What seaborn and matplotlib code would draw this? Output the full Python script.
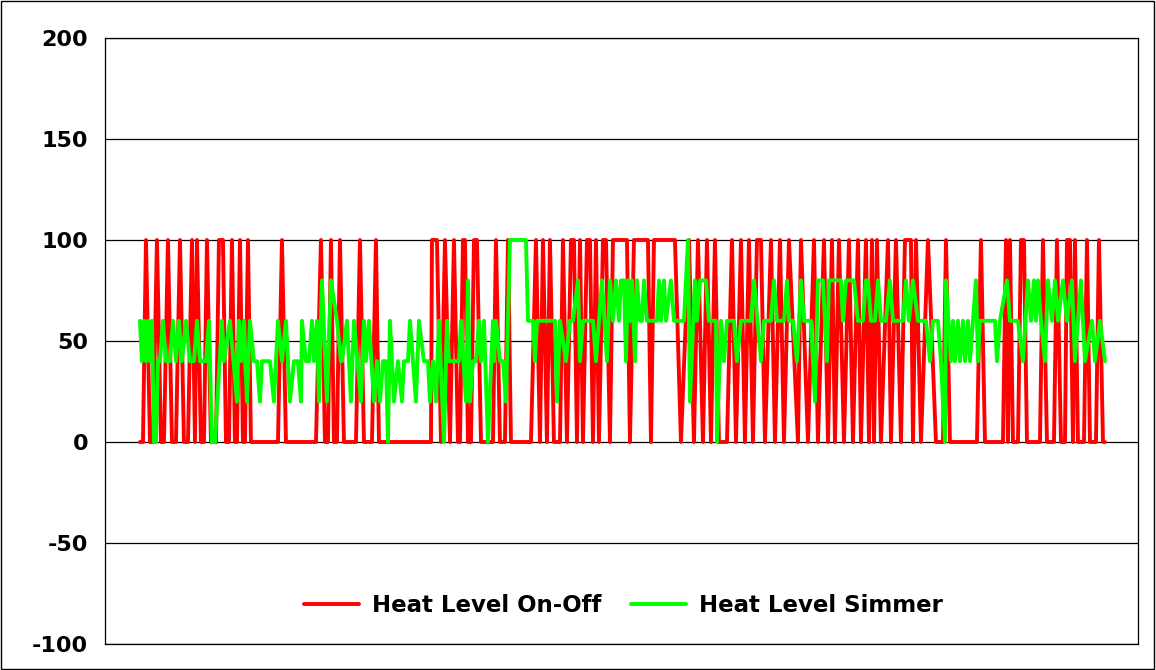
import matplotlib.pyplot as plt
import pandas as pd
import seaborn as sns
from matplotlib.patches import Rectangle

# (time s, level %) vertices, split in chunks
on_off_a = [(0, 0), (3, 0), (6, 100), (10, 0), (13, 0), (17, 100), (21, 0), (24, 0),
            (28, 100), (32, 0), (36, 0), (40, 100), (44, 0), (48, 0), (52, 100), (55, 0),
            (57, 100), (61, 0), (64, 0), (67, 100), (71, 0), (76, 0), (79, 100), (83, 100),
            (86, 0), (89, 0), (92, 100), (95, 0), (97, 0), (100, 100), (103, 0), (105, 0),
            (108, 100), (111, 0), (138, 0), (142, 100), (146, 0), (176, 0), (181, 100),
            (185, 0), (188, 0), (191, 100), (194, 0), (197, 0), (200, 100), (204, 0),
            (216, 0), (220, 100), (224, 0), (232, 0), (236, 100), (239, 0)]
on_off_b = [(291, 0), (292, 100), (297, 100), (301, 0), (305, 100), (310, 0), (314, 100),
            (318, 0), (320, 0), (323, 100), (325, 100), (328, 0), (331, 0), (334, 100),
            (337, 100), (341, 0), (344, 0), (353, 0), (356, 100), (360, 0), (365, 0),
            (368, 100), (371, 0), (391, 0), (396, 100), (400, 0), (403, 100), (407, 0),
            (410, 100), (414, 0), (420, 0), (423, 100), (427, 0), (431, 100), (434, 100),
            (437, 0), (440, 100), (443, 0), (447, 100), (450, 100), (453, 0), (456, 100),
            (459, 0), (463, 100), (466, 100), (470, 0), (473, 100), (487, 100), (490, 0),
            (494, 100), (508, 100), (511, 0), (514, 100), (535, 100), (541, 0)]
on_off_c = [(549, 100), (554, 0), (558, 100), (563, 0), (567, 100), (571, 0), (575, 100),
            (579, 0), (587, 0), (592, 100), (596, 0), (601, 100), (605, 0), (609, 100),
            (613, 0), (617, 100), (621, 100), (625, 0), (631, 100), (635, 0), (640, 100),
            (644, 0), (649, 100), (658, 0), (661, 100), (668, 0), (674, 100), (678, 0),
            (684, 100), (688, 0), (692, 100), (695, 0), (699, 100), (704, 0), (709, 100),
            (713, 0), (718, 100), (721, 0), (726, 100), (729, 0), (732, 100), (734, 0),
            (737, 100), (741, 0), (748, 100), (751, 0), (756, 100), (761, 0), (765, 100),
            (771, 100), (773, 0), (776, 100), (781, 0), (788, 100), (796, 0)]
on_off_d = [(803, 0), (806, 100), (810, 0), (837, 0), (841, 100), (845, 0), (863, 0),
            (866, 100), (868, 0), (870, 100), (873, 0), (878, 0), (881, 100), (884, 100),
            (887, 0), (900, 0), (903, 100), (907, 0), (914, 0), (917, 100), (921, 0),
            (925, 0), (927, 100), (930, 100), (933, 0), (935, 100), (938, 0), (944, 0),
            (947, 100), (950, 0), (956, 0), (959, 100), (963, 0), (965, 0)]

simmer_a = [(0, 60), (2, 40), (4, 60), (6, 40), (8, 60), (10, 40), (12, 60), (14, 0),
            (16, 0), (18, 40), (20, 40), (23, 60), (26, 40), (30, 40), (33, 60), (36, 40),
            (39, 60), (42, 40), (46, 60), (50, 40), (54, 40), (57, 60), (60, 40), (66, 40),
            (69, 60), (72, 0), (75, 0), (82, 60), (84, 40), (90, 60), (97, 20), (99, 60),
            (101, 40), (104, 60), (107, 20), (110, 60), (114, 40), (117, 40), (120, 20),
            (122, 40), (130, 40), (134, 20), (138, 60), (142, 40), (146, 60), (150, 20),
            (154, 40), (158, 40), (161, 20), (162, 60), (166, 40), (169, 40), (172, 60),
            (174, 40), (177, 60), (179, 20), (182, 80), (187, 20), (191, 80), (197, 60),
            (201, 40), (202, 40), (207, 60), (211, 20), (214, 60), (221, 20), (224, 60),
            (226, 40), (229, 60), (234, 20), (237, 40)]
simmer_b = [(240, 20), (243, 40), (246, 40), (248, 0), (250, 60), (254, 20), (258, 40),
            (262, 20), (264, 40), (268, 40), (270, 60), (273, 40), (276, 20), (279, 60),
            (284, 40), (288, 40), (290, 20), (293, 40), (296, 20), (299, 60), (304, 0),
            (307, 60), (309, 40), (319, 40), (321, 60), (326, 20), (328, 80), (330, 20),
            (333, 40), (336, 40), (339, 60), (341, 40), (344, 60), (348, 0), (353, 60),
            (354, 40), (356, 60), (360, 40), (363, 40), (366, 20), (370, 100), (386, 100),
            (388, 60), (393, 60), (395, 40), (397, 60), (415, 60), (417, 20), (420, 60),
            (426, 40), (430, 60), (433, 60), (438, 80), (440, 40), (443, 60), (453, 60),
            (456, 40), (462, 80), (467, 40), (470, 80), (473, 60), (476, 80), (479, 60),
            (481, 80), (484, 80), (486, 40), (488, 80), (490, 60), (492, 80), (495, 40),
            (497, 80), (500, 60), (502, 60), (504, 80)]
simmer_c = [(507, 60), (517, 60), (519, 80), (521, 60), (524, 80), (526, 60), (531, 80),
            (534, 60), (544, 60), (548, 100), (550, 20), (555, 80), (557, 60), (560, 80),
            (566, 80), (569, 60), (576, 60), (577, 0), (581, 60), (584, 40), (587, 60),
            (594, 60), (597, 40), (601, 60), (611, 60), (614, 80), (621, 40), (624, 60),
            (631, 60), (634, 80), (637, 60), (644, 60), (647, 80), (649, 60), (653, 60),
            (657, 40), (661, 80), (664, 60), (671, 60), (675, 20), (678, 80), (683, 80),
            (687, 40), (689, 80), (701, 80), (703, 60), (706, 80), (714, 80), (718, 60),
            (723, 60), (726, 80), (728, 80), (731, 60), (735, 60), (738, 80), (741, 60),
            (746, 60), (750, 80), (753, 60), (763, 60), (766, 80), (769, 60), (773, 80),
            (778, 60), (786, 60), (790, 40), (793, 60), (798, 60), (801, 40), (805, 0)]
simmer_d = [(806, 80), (811, 40), (813, 60), (815, 40), (818, 60), (820, 40), (823, 60),
            (825, 40), (828, 60), (830, 40), (833, 60), (836, 80), (838, 40), (840, 60),
            (855, 60), (857, 40), (860, 60), (867, 80), (870, 60), (878, 60), (883, 40),
            (888, 80), (891, 60), (894, 80), (896, 60), (898, 80), (901, 60), (905, 40),
            (908, 80), (912, 60), (915, 80), (918, 60), (923, 80), (927, 60), (932, 80),
            (935, 40), (941, 80), (945, 40), (952, 60), (955, 40), (960, 60), (965, 40)]

series_names = ["Heat Level On-Off", "Heat Level Simmer"]
y_ticks = [-100, -50, 0, 50, 100, 150, 200]
colors = {"Heat Level On-Off": "#FF0000", "Heat Level Simmer": "#00FF00"}


def to_frame(points, name):
    return pd.DataFrame(points, columns=["t", "level"]).assign(series=name)


df = pd.concat([
    to_frame(on_off_a + on_off_b + on_off_c + on_off_d, series_names[0]),
    to_frame(simmer_a + simmer_b + simmer_c + simmer_d, series_names[1]),
], ignore_index=True)

sns.set_theme(style="white")
plt.rcParams["font.family"] = ["DejaVu Sans"]

fig = plt.figure(figsize=(11.56, 6.70), dpi=100)
ax = fig.add_axes([0.0908, 0.0388, 0.8936, 0.9045])

sns.lineplot(data=df, x="t", y="level", hue="series", hue_order=series_names,
             palette=colors, estimator=None, sort=False, linewidth=2.8, ax=ax)

ax.set_xlim(-35, 998)
ax.set_ylim(-100, 200)
ax.set_yticks(y_ticks)
ax.set_yticklabels([str(v) for v in y_ticks], fontsize=16, fontweight="bold", color="black")
ax.set_xticks([])
ax.set_xlabel("")
ax.set_ylabel("")
ax.yaxis.grid(True, color="black", linewidth=0.9)
ax.set_axisbelow(True)
ax.tick_params(axis="y", length=0, pad=12)
for sp in ax.spines.values():
    sp.set_color("black")
    sp.set_linewidth(0.9)

handles, labels = ax.get_legend_handles_labels()
for h in handles:
    h.set_linewidth(2.8)
leg = ax.legend(handles, labels, loc="center", bbox_to_anchor=(0.502, 0.064), ncol=2,
                frameon=False, prop={"size": 16.5, "weight": "bold"},
                handlelength=2.4, columnspacing=1.3, handletextpad=0.57)
for txt in leg.get_texts():
    txt.set_color("black")

fig.patches.append(Rectangle((0.0005, 0.001), 0.998, 0.998, transform=fig.transFigure,
                             fill=False, edgecolor="black", linewidth=1))

fig.savefig("out.png", dpi=100)
